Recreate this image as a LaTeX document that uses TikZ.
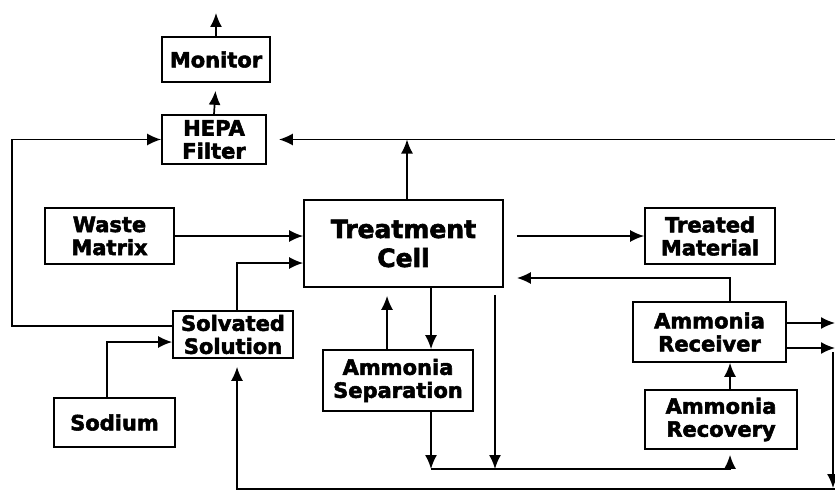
\documentclass[tikz,border=0pt]{standalone}
\usepackage{fontspec}
\setmainfont{DejaVu Sans}[BoldFeatures={FakeBold=2.5}]
\usetikzlibrary{arrows.meta, calc}

\tikzset{
  unit/.style={draw, line width=1.7pt, align=center, inner sep=0pt, font=\bfseries\fontsize{21}{23}\selectfont},
  flow/.style={line width=1.7pt, -{Latex[length=14pt,width=12pt]}}
}

\begin{document}
\begin{tikzpicture}[x=1pt,y=-1pt]
            \useasboundingbox (0,0) rectangle (835,492);
            \node[unit, minimum width=108pt, minimum height=45pt] (M) at (216,59.5) {Monitor};
            \node[unit, minimum width=104pt, minimum height=49pt] (F) at (214,139.5) {HEPA\\Filter};
            \node[unit, minimum width=129pt, minimum height=56pt] (W) at (109.5,236) {Waste\\Matrix};
            \node[unit, minimum width=199pt, minimum height=87pt, font=\bfseries\fontsize{25}{29}\selectfont] (C) at (403.5,243.5) {Treatment\\Cell};
            \node[unit, minimum width=130pt, minimum height=56pt] (D) at (710,236) {Treated\\Material};
            \node[unit, minimum width=120pt, minimum height=47pt] (S) at (233,334.5) {Solvated\\Solution};
            \node[unit, minimum width=121pt, minimum height=49pt] (N) at (114.5,422.5) {Sodium};
            \node[unit, minimum width=150pt, minimum height=61pt] (P) at (398,380.5) {Ammonia\\Separation};
            \node[unit, minimum width=153pt, minimum height=60pt] (V) at (709.5,332) {Ammonia\\Receiver};
            \node[unit, minimum width=152pt, minimum height=59pt] (Y) at (721,419.5) {Ammonia\\Recovery};

            \coordinate (Top) at (216,13);
            \coordinate (L) at (12,139.5);
            \coordinate (R) at (835,139.5);
            \coordinate (J1) at (431,469);
            \coordinate (J2) at (495,469);
            \coordinate (J3) at (730,469);
            \coordinate (O1) at (835,323);
            \coordinate (O2) at (835,348);
            \coordinate (K1) at (833,352);
            \coordinate (K2) at (833,488);
            \coordinate (B) at (835,489);

            \draw[flow] (M.north) -- (Top);
            \draw[flow, shorten >=8pt] (F.north) -- (M.south);
            \draw[flow] (W.east) -- (W.east -| C.west);
            \draw[flow] ([yshift=8.5pt]S.west) -| (L) -- (F.west);
            \draw[flow, shorten >=12pt] (R) -- (F.east);
            \draw[flow] ([xshift=3.5pt]C.north) -- ([xshift=3.5pt]C.north |- R);
            \draw[flow] ([xshift=4pt]S.north) |- ([yshift=-19.5pt]C.west);
            \draw[flow] ([xshift=-7.5pt]N.north) |- ([yshift=-7.5pt]S.west);
            \draw[flow, shorten >=8pt] ([xshift=-11pt]P.north) -- ([xshift=-11pt]P.north |- C.south);
            \draw[flow] ([xshift=27.5pt]C.south) -- ([xshift=27.5pt]C.south |- P.north);
            \draw[flow] (P.south -| J1) -- (J1);
            \draw[flow, shorten <=7pt] (C.south -| J2) -- (J2);
            \draw[flow, shorten >=5pt] (J1) -- (J3) -- (J3 |- Y.south);
            \draw[flow] ([xshift=9pt]Y.north) -- ([xshift=9pt]Y.north |- V.south);
            \draw[flow, shorten >=13pt] ([xshift=20.5pt]V.north) |- ([yshift=-34.5pt]C.east);
            \draw[flow, shorten <=13pt] (C.east |- D.west) -- (D.west);
            \draw[flow] (V.east |- O1) -- (O1);
            \draw[flow] (V.east |- O2) -- (O2);
            \draw[flow] (K1) -- (K2);
            \draw[flow, shorten >=8pt] (B) -| ([xshift=4pt]S.south);
        \end{tikzpicture}
\end{document}
